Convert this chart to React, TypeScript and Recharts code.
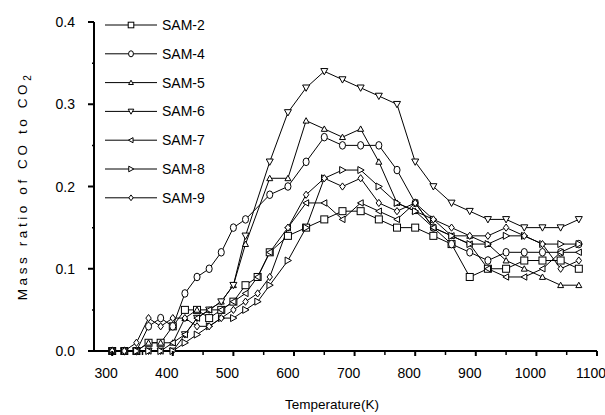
import React from "react";
import { LineChart, Line, XAxis, YAxis, Label } from "recharts";

// temperatures (K) shared by every sample
const TEMPS = [
  300, 320, 340, 360, 380, 400, 420, 440, 460, 480, 500, 520, 540, 560, 590,
  620, 650, 680, 710, 740, 770, 800, 830, 860, 890, 920, 950, 980, 1010, 1040, 1070,
];

const SAM2 = [0, 0, 0, 0.01, 0.01, 0.03, 0.05, 0.05, 0.04, 0.05, 0.06, 0.08, 0.09, 0.12, 0.14, 0.15, 0.16, 0.17, 0.17, 0.16, 0.15, 0.15, 0.14, 0.13, 0.09, 0.10, 0.10, 0.11, 0.11, 0.11, 0.10];
const SAM4 = [0, 0, 0, 0.03, 0.04, 0.03, 0.07, 0.09, 0.10, 0.12, 0.15, 0.16, null, 0.19, 0.20, 0.23, 0.26, 0.25, 0.25, 0.25, 0.22, 0.18, 0.15, 0.13, 0.12, 0.11, 0.12, 0.12, 0.12, 0.12, 0.13];
const SAM5 = [0, 0, 0, 0.01, 0.01, 0.01, 0.04, 0.05, 0.05, 0.06, 0.08, 0.13, null, 0.21, 0.21, 0.28, 0.27, 0.26, 0.27, 0.23, 0.18, 0.17, 0.15, 0.14, 0.14, 0.13, 0.11, 0.10, 0.09, 0.08, 0.08];
const SAM6 = [0, 0, 0, 0, 0, 0, 0.02, 0.04, 0.05, 0.06, 0.08, 0.14, null, 0.23, 0.29, 0.32, 0.34, 0.33, 0.32, 0.31, 0.30, 0.23, 0.20, 0.18, 0.17, 0.16, 0.16, 0.15, 0.15, 0.15, 0.16];
const SAM7 = [0, 0, 0, 0, 0, 0.01, 0.02, 0.04, 0.05, 0.05, 0.06, 0.07, 0.09, 0.12, 0.15, 0.18, 0.18, 0.16, 0.18, 0.17, 0.16, 0.18, 0.15, 0.14, 0.13, 0.10, 0.09, 0.09, 0.10, 0.12, 0.12];
const SAM8 = [0, 0, 0, 0, 0, 0, 0.01, 0.02, 0.03, 0.04, 0.04, 0.05, 0.06, 0.08, 0.11, 0.15, 0.21, 0.22, 0.22, 0.20, 0.18, 0.17, 0.16, 0.14, 0.13, 0.13, 0.14, 0.14, 0.13, 0.13, 0.13];
const SAM9 = [0, 0, 0.01, 0.04, 0.03, 0.04, 0.04, 0.03, 0.03, 0.04, 0.05, 0.06, 0.07, 0.09, 0.15, 0.19, 0.21, 0.20, 0.21, 0.18, 0.17, 0.18, 0.16, 0.15, 0.14, 0.14, 0.15, 0.14, 0.13, 0.10, 0.11];

const X_TICKS = [300, 350, 400, 450, 500, 550, 600, 650, 700, 750, 800, 850, 900, 950, 1000, 1050, 1100];
const Y_TICKS = [0, 0.05, 0.1, 0.15, 0.2, 0.25, 0.3, 0.35, 0.4];

type Shape = "square" | "circle" | "up" | "down" | "left" | "right" | "diamond";

const SERIES: { key: string; values: (number | null)[]; shape: Shape; size: number }[] = [
  { key: "SAM-2", values: SAM2, shape: "square", size: 3.5 },
  { key: "SAM-4", values: SAM4, shape: "circle", size: 3.8 },
  { key: "SAM-5", values: SAM5, shape: "up", size: 3 },
  { key: "SAM-6", values: SAM6, shape: "down", size: 3.5 },
  { key: "SAM-7", values: SAM7, shape: "left", size: 3.2 },
  { key: "SAM-8", values: SAM8, shape: "right", size: 3.5 },
  { key: "SAM-9", values: SAM9, shape: "diamond", size: 3.6 },
];

const data = TEMPS.map((t, i) => {
  const row: Record<string, number | null> = { t };
  SERIES.forEach((s) => (row[s.key] = s.values[i]));
  return row;
});

const FONT = "'Liberation Sans', Arial, sans-serif";
const W = 605;
const H = 415;
const PLOT_LEFT = 94;
const PLOT_BOTTOM = 351;

function Marker({ shape, cx, cy, s }: { shape: Shape; cx: number; cy: number; s: number }) {
  const common = { fill: "#fff", stroke: "#000", strokeWidth: 1 };
  switch (shape) {
    case "square":
      return <rect x={cx - s} y={cy - s} width={s * 2} height={s * 2} {...common} />;
    case "circle":
      return <ellipse cx={cx} cy={cy} rx={s * 0.8} ry={s} {...common} />;
    case "up":
      return <polygon points={`${cx},${cy - s} ${cx + s},${cy + s * 0.8} ${cx - s},${cy + s * 0.8}`} {...common} />;
    case "down":
      return <polygon points={`${cx},${cy + s} ${cx + s},${cy - s * 0.8} ${cx - s},${cy - s * 0.8}`} {...common} />;
    case "left":
      return <polygon points={`${cx - s},${cy} ${cx + s * 0.8},${cy - s} ${cx + s * 0.8},${cy + s}`} {...common} />;
    case "right":
      return <polygon points={`${cx + s},${cy} ${cx - s * 0.8},${cy - s} ${cx - s * 0.8},${cy + s}`} {...common} />;
    default:
      return <polygon points={`${cx},${cy - s} ${cx + s * 0.75},${cy} ${cx},${cy + s} ${cx - s * 0.75},${cy}`} {...common} />;
  }
}

function XTick(props: any) {
  const { x, payload } = props;
  const major = payload.value % 100 === 0;
  return (
    <g>
      <line x1={x} x2={x} y1={PLOT_BOTTOM} y2={PLOT_BOTTOM + (major ? 5 : 4)} stroke="#000" strokeWidth={major ? 2 : 1.5} />
      {major && (
        <text x={x - 6} y={PLOT_BOTTOM + 27} textAnchor="middle" fontSize={14} fontFamily={FONT} fill="#000">
          {payload.value}
        </text>
      )}
    </g>
  );
}

function YTick(props: any) {
  const { y, payload } = props;
  const major = Math.round(payload.value * 100) % 10 === 0;
  return (
    <g>
      <line x1={PLOT_LEFT - (major ? 6 : 2)} x2={PLOT_LEFT} y1={y} y2={y} stroke="#000" strokeWidth={major ? 2 : 1.5} />
      {major && (
        <text x={PLOT_LEFT - 19} y={y} dy="0.36em" textAnchor="end" fontSize={14} fontFamily={FONT} fill="#000">
          {payload.value.toFixed(1)}
        </text>
      )}
    </g>
  );
}

function Legend() {
  return (
    <svg width={240} height={220} style={{ position: "absolute", left: 0, top: 0 }}>
      {SERIES.map((s, i) => {
        const y = 25 + i * 28.8;
        return (
          <g key={s.key}>
            <line x1={105} x2={157} y1={y} y2={y} stroke="#000" strokeWidth={1} />
            <Marker shape={s.shape} cx={131} cy={y} s={s.size * 0.8} />
            <text x={162} y={y} dy="0.36em" fontSize={14} fontFamily={FONT} fill="#000">
              {s.key}
            </text>
          </g>
        );
      })}
    </svg>
  );
}

export default function App() {
  return (
    <div style={{ position: "absolute", left: 0, top: 0, width: W, height: H, background: "#fff" }}>
      <LineChart width={W} height={H} data={data} margin={{ top: 22, right: 8, bottom: 0, left: 0 }}>
        <XAxis
          dataKey="t"
          type="number"
          domain={[270, 1100]}
          ticks={X_TICKS}
          interval={0}
          allowDataOverflow
          height={64}
          axisLine={{ stroke: "#000", strokeWidth: 2 }}
          tickLine={false}
          tick={<XTick />}
        >
          <Label
            content={() => (
              <text x={332} y={409} textAnchor="middle" fontSize={13.5} fontFamily={FONT} fill="#000">
                Temperature(K)
              </text>
            )}
          />
        </XAxis>
        <YAxis
          type="number"
          domain={[0, 0.4]}
          ticks={Y_TICKS}
          interval={0}
          width={94}
          axisLine={{ stroke: "#000", strokeWidth: 2 }}
          tickLine={false}
          tick={<YTick />}
        >
          <Label
            content={() => (
              <text
                x={22}
                y={186}
                transform="rotate(-90 22 186)"
                textAnchor="middle"
                dy="0.36em"
                fontSize={13.5}
                letterSpacing={3.6}
                fontFamily={FONT}
                fill="#000"
              >
                Mass ratio of CO to CO
                <tspan fontSize={10} dy={4}>2</tspan>
              </text>
            )}
          />
        </YAxis>
        {SERIES.map((s) => (
          <Line
            key={s.key}
            dataKey={s.key}
            type="linear"
            stroke="#000"
            strokeWidth={1}
            connectNulls
            isAnimationActive={false}
            activeDot={false}
            dot={(p: any) => {
              if (p.cx == null || p.cy == null || p.value == null) return <g key={`${s.key}-${p.index}`} />;
              return (
                <g key={`${s.key}-${p.index}`}>
                  <Marker shape={s.shape} cx={p.cx} cy={p.cy} s={s.size} />
                </g>
              );
            }}
          />
        ))}
      </LineChart>
      <Legend />
    </div>
  );
}
